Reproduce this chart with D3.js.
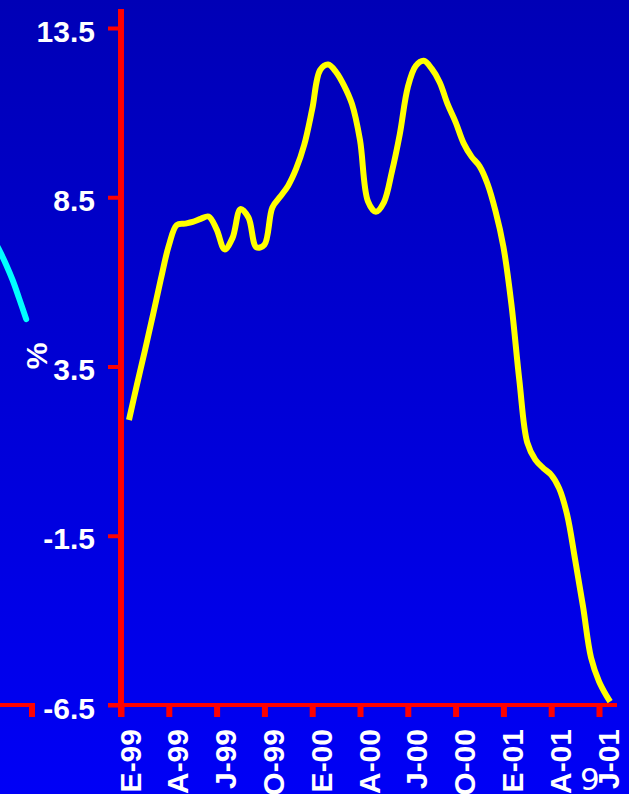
<!DOCTYPE html>
<html>
<head>
<meta charset="utf-8">
<script src="https://cdn.jsdelivr.net/npm/d3@7"></script>
<style>
  html, body { margin: 0; padding: 0; overflow: hidden; background: #0000d8; }
  svg { display: block; }
</style>
</head>
<body>
<svg id="chart" width="629" height="794"></svg>
<script>
// Quarterly tick labels (E = enero, A = abril, J = julio, O = octubre)
const tickLabels = ["E-99", "A-99", "J-99", "O-99", "E-00", "A-00", "J-00", "O-00", "E-01", "A-01", "J-01"];
// Months elapsed since January 1999 for each tick
const tickMonths = [0, 3, 6, 9, 12, 15, 18, 21, 24, 27, 30];
// Value-axis ticks (%)
const yTicks = [13.5, 8.5, 3.5, -1.5, -6.5];

// Main series: months since January 1999 and the rate in %
const seriesMonths = [
  0.5, 1, 1.5, 2, 2.5, 3, 3.5, 4, 4.5, 5, 5.5, 6, 6.5, 7, 7.5, 8, 8.5, 9, 9.5, 10,
  10.5, 11, 11.5, 12, 12.5, 13, 13.5, 14, 14.5, 15, 15.5, 16, 16.5, 17, 17.5, 18,
  18.5, 19, 19.5, 20, 20.5, 21, 21.5, 22, 22.5, 23, 23.5, 24, 24.5, 25, 25.5, 26,
  26.5, 27, 27.5, 28, 28.5, 29, 29.5, 30, 30.5, 30.7
];
const seriesValues = [
  1.92, 2.96, 3.97, 5.01, 6.08, 7.07, 7.68, 7.72, 7.77, 7.86, 7.93, 7.55, 6.96, 7.30, 8.15, 7.90, 7.02, 7.10, 8.20, 8.52,
  8.85, 9.35, 10.05, 11.10, 12.26, 12.42, 12.20, 11.80, 11.25, 10.19, 8.38, 8.07, 8.35, 9.25, 10.37, 11.75,
  12.38, 12.53, 12.30, 11.90, 11.25, 10.72, 10.10, 9.70, 9.42, 8.90, 8.10, 7.04, 5.35, 3.10, 1.25, 0.75,
  0.50, 0.30, -0.10, -0.88, -2.20, -3.60, -5.10, -5.80, -6.25, -6.40
];

// Tail of the neighbouring panel's series, clipped at the left edge
const prevMonths = [-8.0, -7.6, -7.2, -6.8, -6.4, -5.95];
const prevValues = [7.25, 6.90, 6.50, 6.05, 5.52, 4.90];

const W = 629, H = 794;
const axisX = 121, axisTop = 9, axisBottom = 717;
const xAxisY = 705;

const svg = d3.select("#chart");

// Background gradient, darker at the top
const defs = svg.append("defs");
const grad = defs.append("linearGradient")
  .attr("id", "bg").attr("x1", 0).attr("y1", 0).attr("x2", 0).attr("y2", 1);
grad.append("stop").attr("offset", "0%").attr("stop-color", "#0000b6");
grad.append("stop").attr("offset", "100%").attr("stop-color", "#0000f6");
svg.append("rect").attr("width", W).attr("height", H).attr("fill", "url(#bg)");

// Scales
const x = d3.scaleLinear().domain([0, 30]).range([axisX, 599]);
const y = d3.scaleLinear().domain([-6.5, 13.5]).range([705, 28]);

const font = "'Liberation Sans', Arial, Helvetica, sans-serif";

// Fragment of the neighbouring panel's axis at the left edge
svg.append("line")
  .attr("x1", 0).attr("x2", 35).attr("y1", y(-6.5)).attr("y2", y(-6.5))
  .attr("stroke", "#ff0000").attr("stroke-width", 4);
svg.append("line")
  .attr("x1", 32).attr("x2", 32).attr("y1", y(-6.5)).attr("y2", 717)
  .attr("stroke", "#ff0000").attr("stroke-width", 6);

// Neighbouring series tail
const prevData = prevMonths.map((m, i) => ({ m, v: prevValues[i] }));
svg.append("path")
  .datum(prevData)
  .attr("fill", "none")
  .attr("stroke", "#00ffff")
  .attr("stroke-width", 6)
  .attr("stroke-linecap", "round")
  .attr("d", d3.line().x(d => x(d.m)).y(d => y(d.v)).curve(d3.curveCatmullRom));

// Y axis
const yAxis = d3.axisLeft(y).tickValues(yTicks).tickSize(10).tickFormat(d => d.toFixed(1));
const gy = svg.append("g").attr("transform", `translate(${axisX - 3},0)`).call(yAxis);
gy.select(".domain").remove();
gy.selectAll(".tick line").attr("stroke", "#ff0000").attr("stroke-width", 4);
gy.selectAll(".tick text")
  .attr("x", -23).attr("dy", null).attr("y", 13)
  .attr("fill", "#ffffff")
  .style("font-family", font).style("font-size", "30px").style("font-weight", "bold")
  .attr("text-anchor", "end");

// X axis
const xAxis = d3.axisBottom(x).tickValues(tickMonths).tickSize(12)
  .tickFormat((d, i) => tickLabels[i]);
const gx = svg.append("g").attr("transform", `translate(0,${xAxisY})`).call(xAxis);
gx.select(".domain").remove();
gx.selectAll(".tick line").attr("stroke", "#ff0000").attr("stroke-width", 6);
gx.selectAll(".tick text")
  .attr("fill", "#ffffff")
  .style("font-family", font).style("font-size", "30px").style("font-weight", "bold")
  .attr("text-anchor", "end")
  .attr("dy", null)
  .attr("y", 0)
  .attr("transform", "translate(19,24) rotate(-90)");

// Axis lines
svg.append("line")
  .attr("x1", 108).attr("x2", 617).attr("y1", xAxisY).attr("y2", xAxisY)
  .attr("stroke", "#ff0000").attr("stroke-width", 4);
svg.append("line")
  .attr("x1", axisX).attr("x2", axisX).attr("y1", axisTop).attr("y2", axisBottom)
  .attr("stroke", "#ff0000").attr("stroke-width", 6);

// Axis title
svg.append("text")
  .attr("transform", "translate(47,356) rotate(-90)")
  .attr("text-anchor", "middle")
  .attr("fill", "#ffffff")
  .style("font-family", font).style("font-size", "30px").style("font-weight", "bold")
  .text("%");

// Main series
const data = seriesMonths.map((m, i) => ({ m, v: seriesValues[i] }));
svg.append("path")
  .datum(data)
  .attr("fill", "none")
  .attr("stroke", "#ffff00")
  .attr("stroke-width", 6)
  .attr("stroke-linejoin", "round")
  .attr("stroke-linecap", "butt")
  .attr("d", d3.line().x(d => x(d.m)).y(d => y(d.v)).curve(d3.curveCatmullRom));

// Stray glyph near the last tick label
svg.append("text")
  .attr("x", 580).attr("y", 790)
  .attr("fill", "#ffffff")
  .style("font-family", "'DejaVu Sans', sans-serif").style("font-size", "31px")
  .text("9");
</script>
</body>
</html>
